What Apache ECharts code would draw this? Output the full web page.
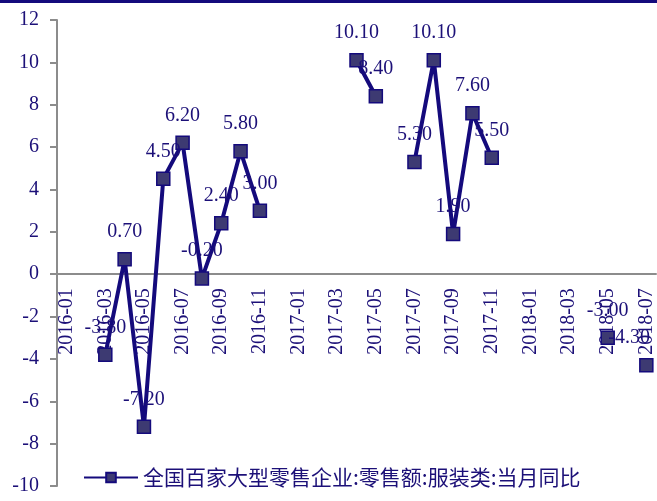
<!DOCTYPE html>
<html>
<head>
<meta charset="utf-8">
<script src="https://cdn.jsdelivr.net/npm/echarts@6/dist/echarts.min.js"></script>
<style>
  html, body { margin: 0; padding: 0; background: #fff; }
  #chart { width: 657px; height: 501px; }
</style>
</head>
<body>
<div id="chart"></div>
<script>
// Monthly categories, 2016-01 through 2018-07
const months = [
  '2016-01','2016-02','2016-03','2016-04','2016-05','2016-06','2016-07','2016-08',
  '2016-09','2016-10','2016-11','2016-12','2017-01','2017-02','2017-03','2017-04',
  '2017-05','2017-06','2017-07','2017-08','2017-09','2017-10','2017-11','2017-12',
  '2018-01','2018-02','2018-03','2018-04','2018-05','2018-06','2018-07'
];

// Year-on-year growth of apparel retail sales (%), null where no figure was published
const apparelYoY = [
  null, null, -3.8, 0.7, -7.2, 4.5, 6.2, -0.2,
  2.4, 5.8, 3.0, null, null, null, null, 10.1,
  8.4, null, 5.3, 10.1, 1.9, 7.6, 5.5, null,
  null, null, null, null, -3.0, null, -4.3
];

const seriesName = '全国百家大型零售企业:零售额:服装类:当月同比';

// value-axis range
const yMin = -10, yMax = 12, yStep = 2;

const W = 657, H = 501;
const grid = { left: 57, right: 1, top: 20, bottom: 15 };
const plotH = H - grid.top - grid.bottom;
// shift the category axis (line, ticks and labels) up to the zero line
const zeroOffset = -((0 - yMin) / (yMax - yMin)) * plotH;

const navy = '#140a7c';
const textNavy = '#1c1078';
const serif = '"Liberation Serif", "Times New Roman", serif';

const chart = echarts.init(document.getElementById('chart'), null, { renderer: 'canvas' });

chart.setOption({
  animation: false,
  backgroundColor: '#ffffff',
  graphic: [{
    type: 'rect',
    left: 0, top: 0,
    shape: { width: W, height: 3 },
    style: { fill: navy },
    silent: true
  }],
  grid: Object.assign({ containLabel: false, outerBoundsMode: 'none' }, grid),
  legend: {
    left: 83,
    top: 467,
    padding: 0,
    itemWidth: 54,
    itemHeight: 12,
    itemGap: 6,
    textStyle: {
      fontFamily: '"Noto Sans CJK SC", sans-serif',
      fontSize: 21,
      color: textNavy
    },
    data: [seriesName]
  },
  xAxis: {
    type: 'category',
    data: months,
    boundaryGap: true,
    offset: zeroOffset,
    axisLine: { onZero: false, lineStyle: { color: '#8c8c8c', width: 2 } },
    axisTick: { interval: 1, length: 5, lineStyle: { color: '#8c8c8c', width: 2 } },
    axisLabel: {
      interval: 1,
      rotate: 90,
      margin: 14,
      fontFamily: serif,
      fontSize: 20,
      color: textNavy
    },
    splitLine: { show: false }
  },
  yAxis: {
    type: 'value',
    min: yMin,
    max: yMax,
    interval: yStep,
    axisLine: { show: true, lineStyle: { color: '#8c8c8c', width: 2 } },
    axisTick: { show: true, length: 7, lineStyle: { color: '#8c8c8c', width: 2 } },
    axisLabel: {
      margin: 18,
      fontFamily: serif,
      fontSize: 20,
      color: textNavy
    },
    splitLine: { show: false }
  },
  series: [{
    name: seriesName,
    type: 'line',
    data: apparelYoY,
    connectNulls: false,
    symbol: 'rect',
    symbolSize: 13,
    showAllSymbol: true,
    lineStyle: { color: navy, width: 4 },
    itemStyle: { color: '#3d3a72', borderColor: navy, borderWidth: 1.5 },
    label: {
      show: true,
      position: 'top',
      distance: 10,
      fontFamily: serif,
      fontSize: 20,
      color: textNavy,
      formatter: p => (p.value == null ? '' : Number(p.value).toFixed(2))
    },
    // keep value labels inside the right edge of the canvas
    labelLayout: params => {
      const r = params.labelRect;
      const limit = W - 7;
      if (r.x + r.width > limit) return { dx: limit - (r.x + r.width) };
      return {};
    },
    z: 3
  }]
});
</script>
</body>
</html>
